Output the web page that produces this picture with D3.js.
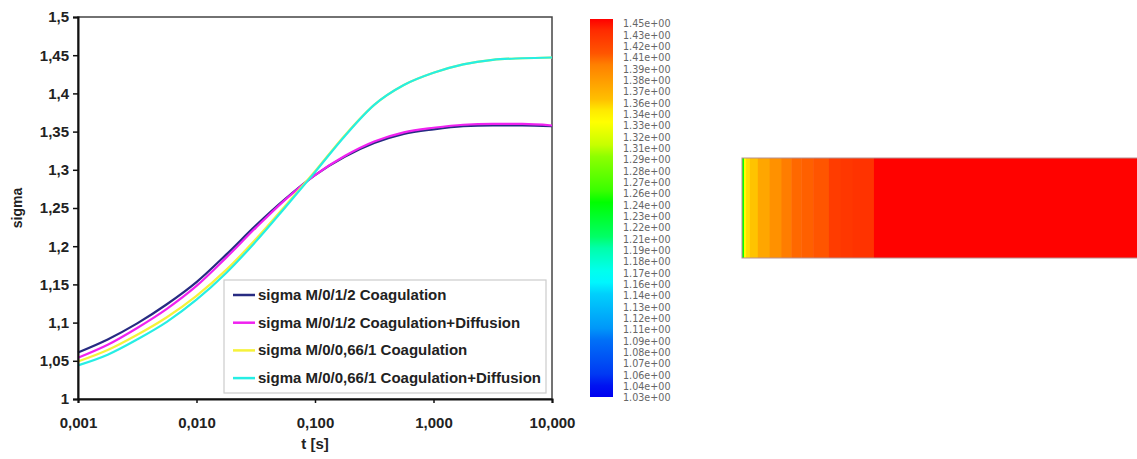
<!DOCTYPE html>
<html>
<head>
<meta charset="utf-8">
<script src="https://cdn.jsdelivr.net/npm/d3@7"></script>
<style>
  body { margin: 0; background: #fff; }
  svg { display: block; font-family: "Liberation Sans", Arial, sans-serif; }
  .tick text { font-weight: bold; font-size: 15px; fill: #222; }
</style>
</head>
<body>
<svg id="chart" width="1137" height="459"></svg>
<script>
// time points (s) and sigma of each run
var tValues = [0.001, 0.00178, 0.00316, 0.00562, 0.01, 0.0178, 0.0316, 0.0562, 0.1, 0.178, 0.316, 0.562, 1, 1.78, 3.16, 5.62, 10];
var sigmaCoag12     = [1.061, 1.078, 1.099, 1.124, 1.153, 1.189, 1.227, 1.262, 1.293, 1.317, 1.335, 1.347, 1.353, 1.357, 1.358, 1.358, 1.357];
var sigmaCoagDiff12 = [1.054, 1.071, 1.093, 1.118, 1.148, 1.185, 1.224, 1.261, 1.293, 1.318, 1.337, 1.349, 1.355, 1.359, 1.360, 1.360, 1.358];
var sigmaCoag066    = [1.049, 1.064, 1.084, 1.107, 1.135, 1.169, 1.209, 1.253, 1.298, 1.345, 1.385, 1.411, 1.427, 1.438, 1.444, 1.446, 1.447];
var sigmaCoagDiff066= [1.044, 1.058, 1.078, 1.101, 1.130, 1.165, 1.206, 1.251, 1.297, 1.344, 1.385, 1.411, 1.427, 1.438, 1.444, 1.446, 1.447];
var seriesNames = ["sigma M/0/1/2 Coagulation", "sigma M/0/1/2 Coagulation+Diffusion",
                   "sigma M/0/0,66/1 Coagulation", "sigma M/0/0,66/1 Coagulation+Diffusion"];
var seriesColors = ["#272b82", "#f022f0", "#f6f23a", "#26eee4"];

var xTicks = [0.001, 0.01, 0.1, 1, 10];
var yTicks = [1, 1.05, 1.1, 1.15, 1.2, 1.25, 1.3, 1.35, 1.4, 1.45, 1.5];

// contour legend labels (top to bottom)
var barLabels = ["1.45e+00","1.43e+00","1.42e+00","1.41e+00","1.39e+00","1.38e+00","1.37e+00","1.36e+00",
  "1.34e+00","1.33e+00","1.32e+00","1.31e+00","1.29e+00","1.28e+00","1.27e+00","1.26e+00","1.24e+00",
  "1.23e+00","1.22e+00","1.21e+00","1.19e+00","1.18e+00","1.17e+00","1.16e+00","1.14e+00","1.13e+00",
  "1.12e+00","1.11e+00","1.09e+00","1.08e+00","1.07e+00","1.06e+00","1.04e+00","1.03e+00"];

// contour strip: cell edges along the axis (0..100) and sigma in each cell
var stripEdges = [0, 0.5, 1, 2, 4, 7, 10, 12.5, 15, 18, 22, 25, 28, 33.4, 100];
var stripSigma = [1.24, 1.33, 1.346, 1.358, 1.372, 1.382, 1.391, 1.401, 1.405, 1.41, 1.422, 1.424, 1.426, 1.449];

var svg = d3.select("#chart");

var x = d3.scaleLog().domain([0.001, 10]).range([78, 552]);
var y = d3.scaleLinear().domain([1, 1.5]).range([399, 17]);

var comma = function(s) { return s.replace(".", ","); };

// plot frame
svg.append("rect")
  .attr("x", 78).attr("y", 17).attr("width", 552 - 78).attr("height", 399 - 17)
  .attr("fill", "none").attr("stroke", "#444").attr("stroke-width", 1.5);

// curves
var line = d3.line()
  .x(function(d) { return x(d[0]); })
  .y(function(d) { return y(d[1]); })
  .curve(d3.curveMonotoneX);

var allSeries = [sigmaCoag12, sigmaCoagDiff12, sigmaCoag066, sigmaCoagDiff066];
allSeries.forEach(function(vals, i) {
  svg.append("path")
    .datum(tValues.map(function(t, j) { return [t, vals[j]]; }))
    .attr("fill", "none")
    .attr("stroke", seriesColors[i])
    .attr("stroke-width", 2.2)
    .attr("d", line);
});

// axes
var gx = svg.append("g")
  .attr("transform", "translate(0,399)")
  .call(d3.axisBottom(x).tickValues(xTicks).tickSize(4).tickPadding(14)
    .tickFormat(function(d) { return comma(d.toFixed(3)); }));
gx.select(".domain").attr("stroke", "#111").attr("stroke-width", 2);
gx.selectAll(".tick line").attr("stroke", "#111").attr("stroke-width", 1.5);

var gy = svg.append("g")
  .attr("transform", "translate(78,0)")
  .call(d3.axisLeft(y).tickValues(yTicks).tickSize(5).tickPadding(4)
    .tickFormat(function(d) { return comma(String(+d.toFixed(2))); }));
gy.select(".domain").attr("stroke", "#111").attr("stroke-width", 2);
gy.selectAll(".tick line").attr("stroke", "#111").attr("stroke-width", 1.5);

svg.append("text")
  .attr("x", 315).attr("y", 449)
  .attr("text-anchor", "middle")
  .attr("font-weight", "bold").attr("font-size", 15).attr("fill", "#222")
  .text("t [s]");

svg.append("text")
  .attr("transform", "translate(22,208) rotate(-90)")
  .attr("text-anchor", "middle")
  .attr("font-weight", "bold").attr("font-size", 14).attr("fill", "#222")
  .text("sigma");

// legend
var legend = svg.append("g").attr("transform", "translate(224,280)");
legend.append("rect")
  .attr("width", 322).attr("height", 113)
  .attr("fill", "#fff").attr("stroke", "#ccc").attr("stroke-width", 1.2);

seriesNames.forEach(function(name, i) {
  var ly = 15 + i * 27.7;
  legend.append("line")
    .attr("x1", 9).attr("x2", 31).attr("y1", ly).attr("y2", ly)
    .attr("stroke", seriesColors[i]).attr("stroke-width", 2.5);
  legend.append("text")
    .attr("x", 34).attr("y", ly + 5)
    .attr("font-weight", "bold").attr("font-size", 15).attr("fill", "#222")
    .text(name);
});

// colour map
var colorMap = d3.scaleLinear()
  .domain([1.03, 1.165, 1.24, 1.33, 1.45])
  .range(["#0000f0", "#00ffff", "#00ff00", "#ffff00", "#ff0000"]);

var barValues = barLabels.map(function(s) { return +s; });

var grad = svg.append("defs").append("linearGradient")
  .attr("id", "bargrad")
  .attr("x1", 0).attr("y1", 0).attr("x2", 0).attr("y2", 1);
grad.selectAll("stop")
  .data(barValues)
  .enter().append("stop")
  .attr("offset", function(d, i) { return i / (barValues.length - 1); })
  .attr("stop-color", function(d) { return colorMap(d); });

svg.append("rect")
  .attr("x", 590).attr("y", 19).attr("width", 23).attr("height", 378)
  .attr("fill", "url(#bargrad)");

var barY = d3.scalePoint().domain(barLabels).range([24, 398]);
svg.append("g").selectAll("text")
  .data(barLabels)
  .enter().append("text")
  .attr("x", 623)
  .attr("y", function(d) { return barY(d); })
  .attr("dy", "0.36em")
  .attr("font-family", "DejaVu Sans, sans-serif")
  .attr("font-size", 9.6)
  .attr("fill", "#666")
  .text(function(d) { return d; });

// contour strip
var xs = d3.scaleLinear().domain([0, 100]).range([742, 1137]);
svg.append("g").selectAll("rect")
  .data(stripSigma)
  .enter().append("rect")
  .attr("x", function(d, i) { return xs(stripEdges[i]); })
  .attr("width", function(d, i) { return xs(stripEdges[i + 1]) - xs(stripEdges[i]) + 0.5; })
  .attr("y", 158).attr("height", 100)
  .attr("fill", function(d) { return colorMap(d); });

svg.append("rect")
  .attr("x", 742).attr("y", 158).attr("width", 1137 - 742 + 2).attr("height", 100)
  .attr("fill", "none").attr("stroke", "#b89090").attr("stroke-width", 1);
</script>
</body>
</html>
